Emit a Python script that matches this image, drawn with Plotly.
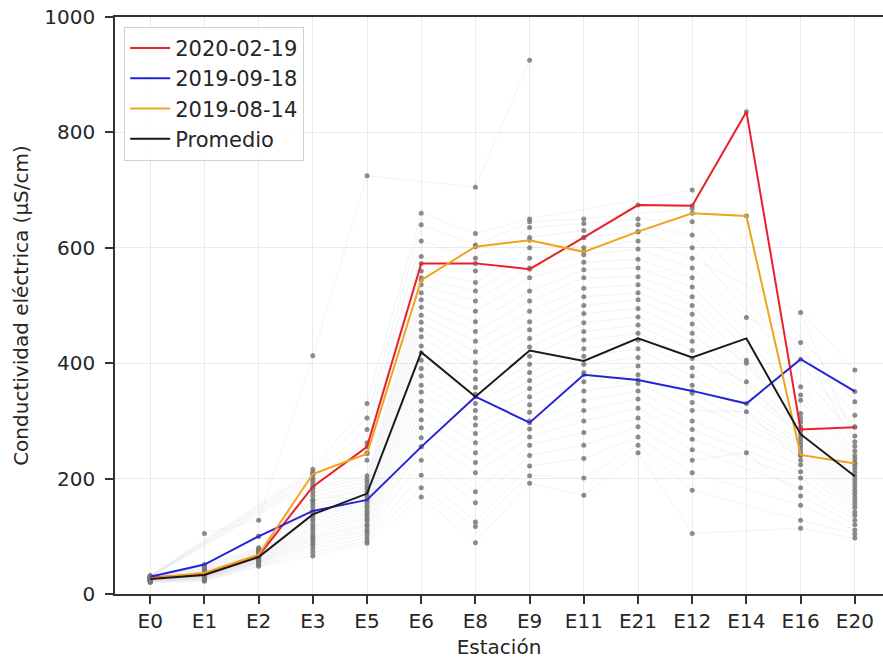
import plotly.graph_objects as go

stations = ["E0", "E1", "E2", "E3", "E5", "E6", "E8", "E9", "E11", "E21", "E12", "E14", "E16", "E20"]

s_2020_02_19 = [28, 35, 66, 186, 255, 573, 573, 563, 618, 674, 673, 836, 285, 289]
s_2019_09_18 = [30, 51, 100, 144, 163, 255, 342, 297, 380, 371, 352, 330, 407, 351]
s_2019_08_14 = [27, 37, 68, 208, 243, 544, 602, 613, 593, 628, 660, 655, 241, 226]
promedio     = [26, 33, 64, 138, 174, 419, 342, 422, 404, 443, 410, 443, 277, 204]

N = None
# other sampling dates: values per station (one column per date)
bg_E0  = [20, 21, 22, 22, 23, 23, 24, 24, 24, 25, 25, 25, 25, 26, 26, 26, 26, 27, 27, 27, 27, 28, 28, 28, 29, 29, 30, 30, 31, 31, 32, N, N, N, N, N]
bg_E1  = [22, 24, 25, 26, 27, 28, 28, 29, 30, 30, 31, 32, 32, 33, 34, 35, 36, 37, 38, 40, 42, 44, 46, 48, 50, N, N, N, N, N, N, N, N, N, N, 105]
bg_E2  = [48, 50, 52, 54, 55, 56, 57, 58, 59, 60, 61, 62, 63, 64, 65, 66, 67, 68, 69, 70, 72, 74, 76, 78, 80, N, N, N, N, N, N, N, N, 100, N, 128]
bg_E3  = [66, 72, 78, 84, 88, 93, 97, 101, 106, 112, 116, 121, 127, 131, 136, 139, 144, 151, 156, 161, 163, 170, 176, 182, 186, 192, 197, 201, 207, 211, 216, N, N, N, N, 413]
bg_E5  = [88, 92, 97, 103, 108, 112, 118, 121, 127, 131, 136, 140, 144, 149, 153, 158, 163, 168, 172, 178, 183, 188, 194, 199, 205, 232, 245, 262, 285, 305, 330, N, N, N, N, 725]
bg_E6  = [168, 184, 206, 232, 255, 271, 288, 302, 318, 334, 350, 362, 378, 391, 405, 418, 430, 446, 458, 471, 483, 497, 510, 522, 536, 548, 560, 585, 612, 640, 660, N, N, N, N, N]
bg_E8  = [89, 117, 125, 158, 177, 210, 228, 245, 262, 278, 293, 305, 318, 330, 346, 358, 372, 386, 401, 420, 438, 455, 472, 490, 508, 525, 540, 560, 582, 605, 625, N, N, N, N, 705]
bg_E9  = [192, 205, 222, 240, 258, 272, 286, 300, 315, 328, 342, 356, 370, 384, 398, 412, 428, 443, 458, 472, 490, 508, 525, 548, 565, 582, 600, 618, 635, 645, 650, N, N, N, N, 925]
bg_E11 = [171, 201, 235, 258, 280, 300, 318, 335, 352, 368, 384, 398, 412, 425, 440, 455, 470, 486, 500, 515, 530, 548, 562, 575, 588, 600, 618, 630, 642, 650, N, N, N, N, N, N]
bg_E21 = [245, 258, 272, 290, 305, 322, 338, 352, 365, 380, 395, 410, 425, 440, 452, 466, 480, 495, 510, 522, 536, 550, 565, 580, 598, 612, 628, 640, 650, N, N, N, N, N, N, N]
bg_E12 = [105, 180, 210, 232, 250, 268, 285, 300, 318, 332, 348, 362, 378, 392, 408, 422, 438, 452, 468, 485, 500, 515, 532, 548, 565, 582, 600, 622, 645, 668, 700, N, N, N, N, N]
bg_E14 = [N, N, N, 245, N, N, N, N, 316, N, N, N, N, N, 368, N, N, N, 400, N, 405, N, N, N, 479, N, N, N, N, N, N, N, N, N, N, N]
bg_E16 = [114, 128, 154, 170, 184, 201, 212, 224, 232, 240, 246, 252, 258, 264, 270, 276, 282, 290, 298, 305, 313, 336, 345, 359, 436, 488, N, N, N, N, N, N, N, N, N, N]
bg_E20 = [97, 104, 111, 120, 128, 136, 142, 150, 156, 162, 168, 174, 180, 186, 192, 198, 204, 210, 216, 222, 228, 234, 240, 248, 256, 264, 274, 290, 310, 333, 388, N, N, N, N, N]

bg_cols = [bg_E0, bg_E1, bg_E2, bg_E3, bg_E5, bg_E6, bg_E8, bg_E9, bg_E11, bg_E21, bg_E12, bg_E14, bg_E16, bg_E20]

xs = list(range(len(stations)))
fig = go.Figure()
FONT = "DejaVu Sans"

n_bg = len(bg_E0)
for k in range(n_bg):
    ys = [col[k] for col in bg_cols]
    fig.add_trace(go.Scatter(x=xs, y=ys, mode="lines", connectgaps=True,
                             line=dict(color="rgba(160,165,185,0.13)", width=1),
                             showlegend=False, hoverinfo="skip"))
for k in range(n_bg):
    ys = [col[k] for col in bg_cols]
    fig.add_trace(go.Scatter(x=xs, y=ys, mode="markers",
                             marker=dict(color="rgba(120,120,120,0.85)", size=5),
                             showlegend=False, hoverinfo="skip"))
for ser in [s_2020_02_19, s_2019_09_18, s_2019_08_14]:
    fig.add_trace(go.Scatter(x=xs, y=ser, mode="markers",
                             marker=dict(color="rgba(120,120,120,0.85)", size=5),
                             showlegend=False, hoverinfo="skip"))

main = [("2020-02-19", s_2020_02_19, "#e8202a"),
        ("2019-09-18", s_2019_09_18, "#2424d6"),
        ("2019-08-14", s_2019_08_14, "#f0a41c"),
        ("Promedio", promedio, "#1a1a1a")]
for name, ser, col in main:
    fig.add_trace(go.Scatter(x=xs, y=ser, mode="lines", name=name, legendgroup=name,
                             line=dict(color=col, width=2)))

fig.update_layout(
    width=883, height=659,
    margin=dict(l=115, r=0, t=17, b=65, autoexpand=False),
    paper_bgcolor="white", plot_bgcolor="white",
    font=dict(family=FONT, size=20, color="#262626"),
    legend=dict(x=0.012, y=0.983, xanchor="left", yanchor="top",
                bgcolor="rgba(255,255,255,0.85)", bordercolor="#d0d0d0", borderwidth=1,
                font=dict(family=FONT, size=21, color="#262626"),
                traceorder="grouped", tracegroupgap=0, itemwidth=40),
    xaxis=dict(range=[-0.65, 13.52], tickmode="array", tickvals=xs, ticktext=stations,
               showgrid=True, gridcolor="#ebebeb", gridwidth=1,
               showline=True, linecolor="#333333", linewidth=1.5, mirror=True,
               ticks="outside", ticklen=8, tickcolor="#333333", tickwidth=1.5,
               ticklabelstandoff=0, zeroline=False,
               title=dict(text="Estación", standoff=16, font=dict(family=FONT, size=20))),
    yaxis=dict(range=[0, 1000], tickvals=[0, 200, 400, 600, 800, 1000],
               showgrid=True, gridcolor="#ebebeb", gridwidth=1,
               showline=True, linecolor="#333333", linewidth=1.5,
               ticks="outside", ticklen=8, tickcolor="#333333", tickwidth=1.5,
               ticklabelstandoff=6, zeroline=False,
               title=dict(text="Conductividad eléctrica (µS/cm)", standoff=10,
                          font=dict(family=FONT, size=20))),
)

fig.write_html("out.html")
